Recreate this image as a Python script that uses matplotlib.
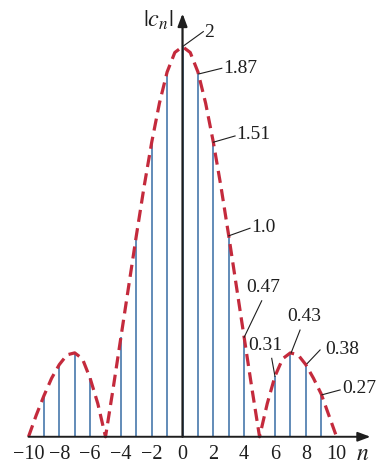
import matplotlib
matplotlib.use("Agg")
import matplotlib.pyplot as plt

plt.rcParams['font.family'] = ['Liberation Serif', 'DejaVu Serif']
plt.rcParams['mathtext.fontset'] = 'stix'

# ---- data ----
n_vals = list(range(-10, 11))
stem_vals = [0, 0.21, 0.37, 0.43, 0.30, 0, 0.51, 1.03, 1.51, 1.87, 2.0,
             1.87, 1.51, 1.03, 0.51, 0, 0.31, 0.43, 0.38, 0.22, 0]

env_n = [x / 2 for x in range(-20, 21)]
env_vals = [0, 0.11, 0.21, 0.30, 0.37, 0.42, 0.43, 0.40, 0.30, 0.17,
            0, 0.25, 0.51, 0.77, 1.03, 1.28, 1.51, 1.71, 1.87, 1.97,
            2.0,
            1.97, 1.87, 1.71, 1.51, 1.28, 1.03, 0.77, 0.51, 0.25,
            0, 0.17, 0.31, 0.40, 0.43, 0.42, 0.37, 0.30, 0.22, 0.11, 0]

tick_pos = [-10, -8, -6, -4, -2, 0, 2, 4, 6, 8, 10]
tick_labels = ['\u221210', '\u22128', '\u22126', '\u22124', '\u22122', '0',
               '2', '4', '6', '8', '10']

ann_labels = ['2', '1.87', '1.51', '1.0', '0.47', '0.31', '0.43', '0.38', '0.27']
ann_n = [0, 1, 2, 3, 4, 6, 7, 8, 9]

# ---- layout ----
fig = plt.figure(figsize=(3.8, 4.67), dpi=100)
ax = fig.add_axes([0, 0, 1, 1])
ax.set_xlim(-11.85, 12.82)
ax.set_ylim(-0.155, 2.239)
ax.axis('off')

blue = '#3e72a8'
red = '#c42a3c'
black = '#1e1e1e'

ax.vlines(n_vals, 0, stem_vals, color=blue, lw=1.15, zorder=2)
ax.plot(env_n, env_vals, color=red, lw=2.3, dashes=(3.8, 2.0), zorder=3,
        solid_capstyle='butt', dash_capstyle='butt')

# axes with arrows
ax.annotate('', xy=(12.2, 0), xytext=(-10, 0),
            arrowprops=dict(arrowstyle='-|>,head_length=0.75,head_width=0.28',
                            color=black, lw=1.4, shrinkA=0, shrinkB=0), zorder=4)
ax.annotate('', xy=(0, 2.17), xytext=(0, 0),
            arrowprops=dict(arrowstyle='-|>,head_length=0.75,head_width=0.28',
                            color=black, lw=1.6, shrinkA=0, shrinkB=0), zorder=4)

for p, t in zip(tick_pos, tick_labels):
    ax.text(p, -0.093, t, ha='center', va='center', fontsize=14.5, color=black)
ax.text(11.72, -0.093, r'$n$', ha='center', va='center', fontsize=17, color=black)
ax.text(-1.55, 2.135, r'$|c_n|$', ha='center', va='center', fontsize=17.5, color=black)

# annotation layout (leader start, leader end, text anchor)
lead_start = [(0.0, 2.0), (1.06, 1.86), (2.0, 1.51), (3.0, 1.03), (4.0, 0.51),
              (6.0, 0.31), (7.05, 0.43), (8.1, 0.376), (9.05, 0.215)]
lead_end = [(1.35, 2.077), (2.55, 1.889), (3.41, 1.542), (4.38, 1.069), (5.14, 0.697),
            (5.79, 0.402), (7.63, 0.547), (8.93, 0.445), (10.23, 0.24)]
text_pos = [(1.40, 2.07), (2.63, 1.89), (3.47, 1.547), (4.49, 1.075), (4.12, 0.763),
            (4.27, 0.470), (6.77, 0.615), (9.25, 0.448), (10.4, 0.248)]

for s, e, tp, lab in zip(lead_start, lead_end, text_pos, ann_labels):
    ax.plot([s[0], e[0]], [s[1], e[1]], color=black, lw=0.8, zorder=5)
    ax.text(tp[0], tp[1], lab, ha='left', va='center', fontsize=14, color=black)

fig.savefig('out.png', dpi=100)
